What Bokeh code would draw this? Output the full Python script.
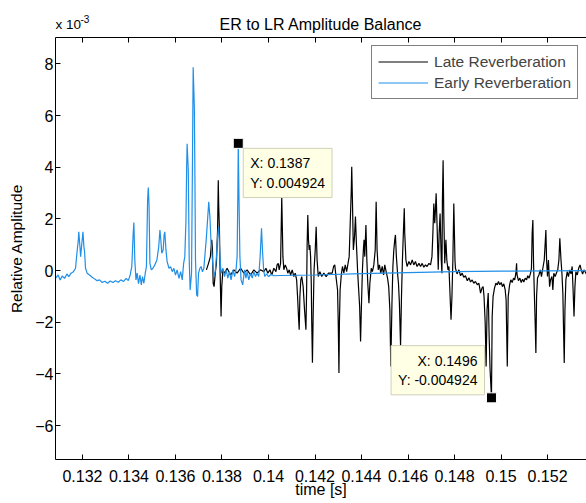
from bokeh.plotting import figure
from bokeh.models import (FixedTicker, PrintfTickFormatter, Label, Legend, LegendItem,
                          LinearAxis, Range1d)
from bokeh.core.properties import value
from bokeh.embed import file_html
from bokeh.resources import INLINE

# ---------------- data (amplitude in units of 1e-3) ----------------
er_t = [0.13084, 0.13095, 0.13104, 0.13113, 0.13123, 0.13133, 0.13141, 0.13151, 0.13161, 0.13170,
        0.13176, 0.13182, 0.13184, 0.13189, 0.13192, 0.13196, 0.13202, 0.13206, 0.13209, 0.13213,
        0.13220, 0.13230, 0.13242, 0.13253, 0.13263, 0.13273, 0.13285, 0.13296, 0.13308, 0.13319,
        0.13331, 0.13342, 0.13354, 0.13365, 0.13377, 0.13388, 0.13397, 0.13405, 0.13412, 0.13418,
        0.13421, 0.13425, 0.13430, 0.13435, 0.13441, 0.13447, 0.13453, 0.13458, 0.13464, 0.13470,
        0.13475, 0.13480, 0.13483, 0.13486, 0.13490, 0.13496, 0.13503, 0.13511, 0.13520, 0.13528,
        0.13533, 0.13537, 0.13541, 0.13547, 0.13551, 0.13554, 0.13559, 0.13564, 0.13572, 0.13579,
        0.13586, 0.13593, 0.13600, 0.13607, 0.13615, 0.13622, 0.13629, 0.13635, 0.13640, 0.13645,
        0.13648, 0.13650, 0.13655, 0.13659, 0.13663, 0.13669, 0.13673, 0.13676, 0.13681, 0.13683,
        0.13686, 0.13691, 0.13695, 0.13699, 0.13705, 0.13710, 0.13716, 0.13722, 0.13732, 0.13736,
        0.13743, 0.13748, 0.13753, 0.13759, 0.13765, 0.13771, 0.13776, 0.13782, 0.13786, 0.13791,
        0.13796, 0.13804, 0.13811, 0.13818, 0.13825, 0.13832, 0.13839, 0.13847, 0.13854, 0.13861,
        0.13865, 0.13868, 0.13870, 0.13873, 0.13877, 0.13882, 0.13889, 0.13897, 0.13903, 0.13908,
        0.13915, 0.13923, 0.13930, 0.13937, 0.13944, 0.13951, 0.13958, 0.13964, 0.13970, 0.13974,
        0.13979, 0.13984, 0.13991, 0.14001, 0.14012, 0.14023, 0.14050, 0.14200, 0.14400, 0.14600,
        0.14800, 0.15000, 0.15200, 0.15370]
er_v = [-0.30, -0.17, -0.36, -0.21, -0.30, -0.13, -0.23, -0.10, -0.04, 0.09,
        0.67, 1.18, 1.50, 0.93, 0.54, 0.93, 1.50, 0.93, 0.73, 0.09,
        -0.10, -0.17, -0.26, -0.33, -0.39, -0.36, -0.46, -0.41, -0.49, -0.40,
        -0.46, -0.39, -0.45, -0.36, -0.42, -0.30, -0.39, -0.17, 0.15, 1.44,
        1.86, 0.41, -0.36, -0.10, -0.51, -0.17, -0.55, -0.23, -0.49, -0.10,
        0.15, 2.72, 3.21, 2.60, 0.28, 0.03, 0.09, 0.22, 0.41, 0.93,
        1.57, 1.18, 0.67, 0.80, 1.38, 1.50, 0.80, 0.35, 0.09, 0.15,
        -0.04, 0.09, -0.17, 0.03, -0.30, -0.04, -0.36, 0.28, 0.54, 1.95,
        4.01, 4.91, 3.88, 0.41, -0.75, -0.10, 4.27, 7.87, 6.32, 4.27,
        0.41, -0.94, -1.00, -0.10, 0.09, 0.16, -0.05, 0.09, 1.19, 1.70,
        2.66, 2.08, 1.06, 0.41, -0.23, -0.04, 0.54, 1.44, 1.70, 0.54,
        -0.10, 0.09, -0.23, 0.03, -0.29, -0.04, -0.36, 0.03, -0.23, 0.09,
        0.54, 2.86, 4.924, 2.86, 0.54, -0.36, -0.55, 0.03, -0.29, -0.04,
        -0.36, -0.10, -0.29, -0.04, -0.23, -0.10, -0.23, 0.54, 1.64, 0.80,
        0.03, -0.23, -0.13, -0.23, -0.14, -0.20, -0.19, -0.17, -0.12, -0.08,
        -0.04, -0.02, -0.01, 0.00]

lr_t = [0.13733, 0.13742, 0.13750, 0.13756, 0.13759, 0.13762, 0.13766, 0.13771, 0.13776, 0.13781,
        0.13784, 0.13786, 0.13789, 0.13792, 0.13796, 0.13799, 0.13804, 0.13811, 0.13822, 0.13837,
        0.13851, 0.13865, 0.13880, 0.13894, 0.13908, 0.13923, 0.13937, 0.13951, 0.13965, 0.13980,
        0.13989, 0.13997, 0.14006, 0.14014, 0.14023, 0.14032, 0.14037, 0.14042, 0.14046, 0.14052,
        0.14057, 0.14062, 0.14066, 0.14072, 0.14078, 0.14083, 0.14089, 0.14095, 0.14102, 0.14109,
        0.14115, 0.14121, 0.14125, 0.14129, 0.14132, 0.14135, 0.14139, 0.14143, 0.14149, 0.14155,
        0.14161, 0.14164, 0.14166, 0.14169, 0.14172, 0.14175, 0.14178, 0.14181, 0.14184, 0.14186,
        0.14189, 0.14192, 0.14196, 0.14201, 0.14205, 0.14209, 0.14214, 0.14221, 0.14229, 0.14238,
        0.14248, 0.14258,
        0.14274, 0.14280, 0.14285, 0.14291, 0.14297, 0.14300, 0.14303, 0.14305, 0.14308, 0.14313,
        0.14318, 0.14324, 0.14330, 0.14336, 0.14341, 0.14347, 0.14351, 0.14356, 0.14358, 0.14361,
        0.14365, 0.14370, 0.14374, 0.14378, 0.14383, 0.14387, 0.14392, 0.14396, 0.14400, 0.14404,
        0.14408, 0.14411, 0.14414, 0.14419, 0.14423, 0.14427, 0.14432, 0.14436, 0.14442, 0.14447,
        0.14453, 0.14459, 0.14463, 0.14467, 0.14472, 0.14477, 0.14483, 0.14489, 0.14495, 0.14500,
        0.14506, 0.14512, 0.14517, 0.14522, 0.14526, 0.14531, 0.14535, 0.14539, 0.14543, 0.14546,
        0.14550, 0.14555, 0.14559, 0.14563, 0.14568, 0.14572, 0.14576, 0.14581, 0.14584, 0.14586,
        0.14591, 0.14596, 0.14604, 0.14611, 0.14618, 0.14625, 0.14632, 0.14639, 0.14647, 0.14654,
        0.14661, 0.14668, 0.14675, 0.14682, 0.14690, 0.14697, 0.14703, 0.14707, 0.14711, 0.14715,
        0.14718, 0.14721, 0.14726, 0.14730, 0.14734, 0.14738, 0.14743, 0.14746, 0.14748, 0.14751,
        0.14754, 0.14758, 0.14763, 0.14767, 0.14772, 0.14776, 0.14780, 0.14785, 0.14789, 0.14793,
        0.14797, 0.14802,
        0.14804, 0.14811, 0.14819, 0.14826, 0.14833, 0.14840, 0.14847, 0.14855, 0.14862, 0.14869,
        0.14876, 0.14883, 0.14890, 0.14898, 0.14905, 0.14912, 0.14918, 0.14923, 0.14927, 0.14932,
        0.14936, 0.14940, 0.14945, 0.14949, 0.14953, 0.14959, 0.14962, 0.14966, 0.14972, 0.14978,
        0.14984, 0.14989, 0.14995, 0.15001, 0.15006, 0.15012, 0.15018, 0.15022, 0.15027, 0.15031,
        0.15037, 0.15042, 0.15048, 0.15054, 0.15059, 0.15064, 0.15067, 0.15069, 0.15075, 0.15081,
        0.15087, 0.15093, 0.15098, 0.15104, 0.15110, 0.15115, 0.15121, 0.15127, 0.15131, 0.15134,
        0.15137, 0.15140, 0.15143, 0.15147, 0.15150, 0.15153, 0.15157, 0.15163, 0.15169, 0.15174,
        0.15180, 0.15186, 0.15190, 0.15193, 0.15196, 0.15200, 0.15204, 0.15209, 0.15213, 0.15219,
        0.15223, 0.15227, 0.15233, 0.15238, 0.15244, 0.15249, 0.15253, 0.15258, 0.15262, 0.15266,
        0.15269, 0.15272, 0.15275, 0.15279, 0.15285, 0.15290, 0.15296, 0.15301, 0.15306, 0.15310,
        0.15314, 0.15318, 0.15322, 0.15328, 0.15334, 0.15340, 0.15345, 0.15351, 0.15357, 0.15367]
lr_v = [0.03, 0.28, 0.54, 1.19, 0.80, -0.49, -0.62, -0.10, 0.28, 1.57,
        3.50, 2.47, 1.57, -0.10, -1.78, -0.62, 0.03, -0.10, 0.09, -0.17,
        0.03, -0.10, 0.09, -0.10, 0.03, -0.17, 0.03, -0.10, 0.03, -0.04,
        0.09, -0.10, 0.03, -0.17, 0.09, -0.04, 0.22, 0.28, 0.03, 0.28,
        2.86, 0.54, 0.03, 0.22, 0.09, -0.10, 0.03, -0.17, 0.03, -0.23,
        -0.10, -0.36, -1.00, -1.78, -2.29, -1.00, -0.36, -0.23, -0.62, -1.52,
        -2.29, -0.75, 0.93, 2.15, 1.19, 0.80, 0.99, 0.54, -0.49, -2.03,
        -3.57, -1.78, 0.03, 0.80, 1.70, 0.41, -0.23, -0.04, -0.23, -0.10,
        -0.23, -0.10,
        -0.10, 0.16, 0.22, -0.29, -0.75, -2.03, -3.96, -2.03, -0.75, -0.17,
        0.16, -0.10, 0.22, -0.04, 0.22, 0.54, 1.70, 3.11, 4.02, 2.73,
        0.80, 1.31, 2.09, 1.06, 0.03, -0.62, -1.39, -2.74, -1.26, 0.03,
        0.80, 1.19, 0.54, 1.76, 0.41, -0.49, -1.26, -0.49, 0.09, -0.04,
        0.22, 0.80, 2.66, 0.80, 0.03, 0.22, -0.10, 0.16, -0.17, 0.22,
        -0.04, -0.29, -0.62, -1.52, -3.71, -1.26, 0.16, 0.80, 1.19, 1.38,
        0.54, -0.10, -0.49, -1.26, -2.93, -1.00, 0.41, 1.70, 2.41, 1.44,
        0.41, 0.16, 0.35, 0.22, 0.41, 0.22, 0.35, 0.16, 0.28, 0.16,
        0.28, 0.13, 0.22, 0.16, 0.28, 0.22, 0.54, 1.44, 2.60, 1.83,
        2.34, 2.99, 1.44, 0.03, 1.44, 2.21, 0.41, -0.10, 2.73, 4.27,
        2.09, 0.28, 1.19, 0.41, 0.03, 0.16, -0.75, -1.90, -1.00, 0.41,
        2.60, 0.41,
        0.09, -0.13, 0.03, -0.20, -0.10, -0.26, -0.20, -0.39, -0.28, -0.44,
        -0.36, -0.49, -0.42, -0.55, -0.49, -0.87, -0.68, -0.62, -1.00, -2.03,
        -3.71, -1.52, -0.87, -2.55, -3.83, -4.924, -1.78, -1.00, -0.68, -0.49,
        -0.55, -0.42, -0.55, -0.46, -0.62, -0.51, -0.75, -1.13, -3.71, -1.00,
        -0.55, -0.36, -0.46, -0.29, -0.36, -0.10, 0.28, -0.17, -0.39, -0.29,
        -0.46, -0.33, -0.44, -0.29, -0.36, -0.20, -0.29, -0.10, 0.09, 1.44,
        1.96, 0.28, -0.75, -2.03, -3.19, -1.00, -0.29, -0.17, 0.03, -0.23,
        0.09, 0.41, 1.06, 1.57, 0.41, -0.23, 0.41, -0.62, -0.36, -0.23,
        -0.75, -0.10, -0.23, -0.10, 0.03, 0.41, 1.25, 0.41, -0.10, -0.87,
        -2.29, -3.58, -1.52, -0.36, -0.04, -0.23, 0.03, -0.13, 0.16, -0.75,
        -1.78, -0.62, -0.04, -0.17, 0.09, 0.22, 0.03, -0.13, 0.03, -0.13]

tip_t = [0.13870, 0.14959]
tip_v = [4.924, -4.924]
tip_text = ["X: 0.1387\nY: 0.004924", "X: 0.1496\nY: -0.004924"]

x_ticks = [0.132, 0.134, 0.136, 0.138, 0.140, 0.142, 0.144, 0.146, 0.148, 0.150, 0.152]
y_ticks = [-6, -4, -2, 0, 2, 4, 6, 8]
x_lim = (0.130839, 0.153677)
y_lim = (-7.31, 9.02)

FONT = "Liberation Sans"
BLUE = "#1f8fe8"

p = figure(width=586, height=503, output_backend="svg", toolbar_location=None,
           x_range=Range1d(*x_lim), y_range=Range1d(*y_lim),
           min_border_left=55, min_border_right=0, min_border_top=37, min_border_bottom=44,
           title="ER to LR Amplitude Balance")
p.background_fill_color = "white"
p.border_fill_color = "white"
p.outline_line_color = None
p.grid.visible = False

p.title.align = "center"
p.title.text_font = FONT
p.title.text_font_size = "16px"
p.title.text_font_style = "normal"
p.title.text_color = "black"
p.title.standoff = 10

def style_axis(ax, labels=True):
    ax.axis_line_color = "black"
    ax.axis_line_width = 1
    ax.major_tick_in = 5
    ax.major_tick_out = 0
    ax.minor_tick_line_color = None
    ax.major_tick_line_color = "black"
    ax.major_label_text_font = FONT
    if labels:
        ax.major_label_text_font_size = "16px"
        ax.major_label_text_color = "black"
    else:
        ax.major_label_text_font_size = "1px"
        ax.major_label_text_color = None
        ax.major_label_standoff = 0

xa = p.xaxis[0]
xa.ticker = FixedTicker(ticks=x_ticks)
xa.formatter = PrintfTickFormatter(format="%g")
style_axis(xa)
xa.major_label_standoff = 10
xa.axis_label = "time [s]"
xa.axis_label_text_font = FONT
xa.axis_label_text_font_size = "16px"
xa.axis_label_text_font_style = "normal"
xa.axis_label_text_color = "black"
xa.axis_label_standoff = -4

ya = p.yaxis[0]
ya.ticker = FixedTicker(ticks=y_ticks)
style_axis(ya)
ya.major_label_standoff = 2
ya.axis_label = "Relative Amplitude"
ya.axis_label_text_font = FONT
ya.axis_label_text_font_size = "15.5px"
ya.axis_label_text_font_style = "normal"
ya.axis_label_text_color = "black"
ya.axis_label_standoff = 7

top = LinearAxis(ticker=FixedTicker(ticks=x_ticks))
style_axis(top, labels=False)
p.add_layout(top, "above")

r_lr = p.line(lr_t, lr_v, line_color="black", line_width=1.2)
r_er = p.line(er_t, er_v, line_color=BLUE, line_width=1.2)

p.scatter(tip_t, tip_v, marker="square", size=10, fill_color="black",
          line_color="white", line_width=1)

# data tips
p.add_layout(Label(x=tip_t[0], y=tip_v[0], x_offset=5, y_offset=-5, text=tip_text[0],
                   text_align="left", text_baseline="top", text_font=FONT,
                   text_font_size="14px", text_color="black", padding=7,
                   background_fill_color="#ffffe6", border_line_color="#d0d0b8"))
p.add_layout(Label(x=tip_t[1], y=tip_v[1], x_offset=-7, y_offset=3, text=tip_text[1],
                   text_align="right", text_baseline="bottom", text_font=FONT,
                   text_font_size="14px", text_color="black", padding=7,
                   background_fill_color="#ffffe6", border_line_color="#d0d0b8"))

# axis exponent (drawn above the frame, at its top-left corner)
p.text(x=[x_lim[0]], y=[y_lim[1]], text=["x 10"], x_offset=0, y_offset=-13,
       text_baseline="alphabetic", text_align="left", text_font=value(FONT),
       text_font_size="13.5px", text_color="black", level="overlay")
p.text(x=[x_lim[0]], y=[y_lim[1]], text=["-3"], x_offset=25, y_offset=-18.5,
       text_baseline="alphabetic", text_align="left", text_font=value(FONT),
       text_font_size="10px", text_color="black", level="overlay")

legend = Legend(items=[LegendItem(label="Late Reverberation", renderers=[r_lr]),
                       LegendItem(label="Early Reverberation", renderers=[r_er])],
                location="top_right")
legend.margin = 8
legend.padding = 6
legend.spacing = 2
legend.glyph_width = 50
legend.glyph_height = 19
legend.label_height = 19
legend.label_standoff = 6
legend.label_text_font = FONT
legend.label_text_font_size = "15.5px"
legend.border_line_color = "black"
legend.border_line_width = 1
legend.background_fill_color = "white"
legend.background_fill_alpha = 1
p.add_layout(legend)

open("out.html", "w").write(file_html(p, INLINE))
